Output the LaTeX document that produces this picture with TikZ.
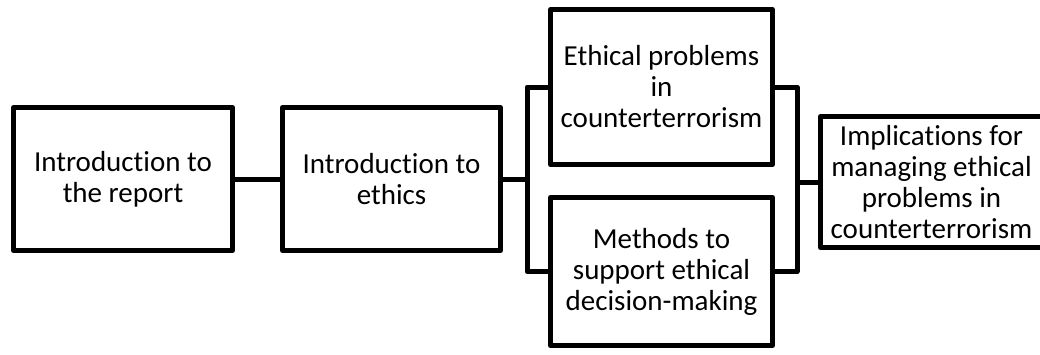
\documentclass[tikz,border=0pt]{standalone}
\usepackage{fontspec}
\setmainfont{Carlito}[Ligatures=NoCommon]
\tikzstyle{bx}=[rectangle,draw=black,line width=5pt,line join=round,align=center,inner sep=0pt,outer sep=0pt,font=\fontsize{29}{31}\selectfont]
\tikzstyle{ln}=[line width=5pt,line join=round]

\begin{document}
\begin{tikzpicture}[x=1pt,y=-1pt]
\useasboundingbox (0,0) rectangle (1040,354);
\node[bx,minimum width=219pt,minimum height=143pt] (report) at (123,179) {Introduction to\\the report};
\node[bx,minimum width=218pt,minimum height=143pt] (ethics) at (391.5,179) {Introduction to\\ethics};
\node[bx,minimum width=222pt,minimum height=155pt] (problems) at (661.5,87) {Ethical problems\\in\\counterterrorism};
\node[bx,minimum width=222pt,minimum height=148pt] (methods) at (661.5,271.5) {Methods to\\support ethical\\decision-making};
\node[bx,minimum width=222pt,minimum height=131pt] (implications) at (931.5,182) {Implications for\\managing ethical\\problems in\\counterterrorism};
\coordinate (lbus) at (527,179);
\coordinate (rbus) at (797,182);
\draw[ln] (report) -- (ethics);
\draw[ln] (ethics.east) -- (lbus);
\draw[ln] (problems.west) -| (lbus) |- (methods.west);
\draw[ln] (problems.east) -| (rbus) |- (methods.east);
\draw[ln] (rbus) -- (implications.west);
\end{tikzpicture}
\end{document}
